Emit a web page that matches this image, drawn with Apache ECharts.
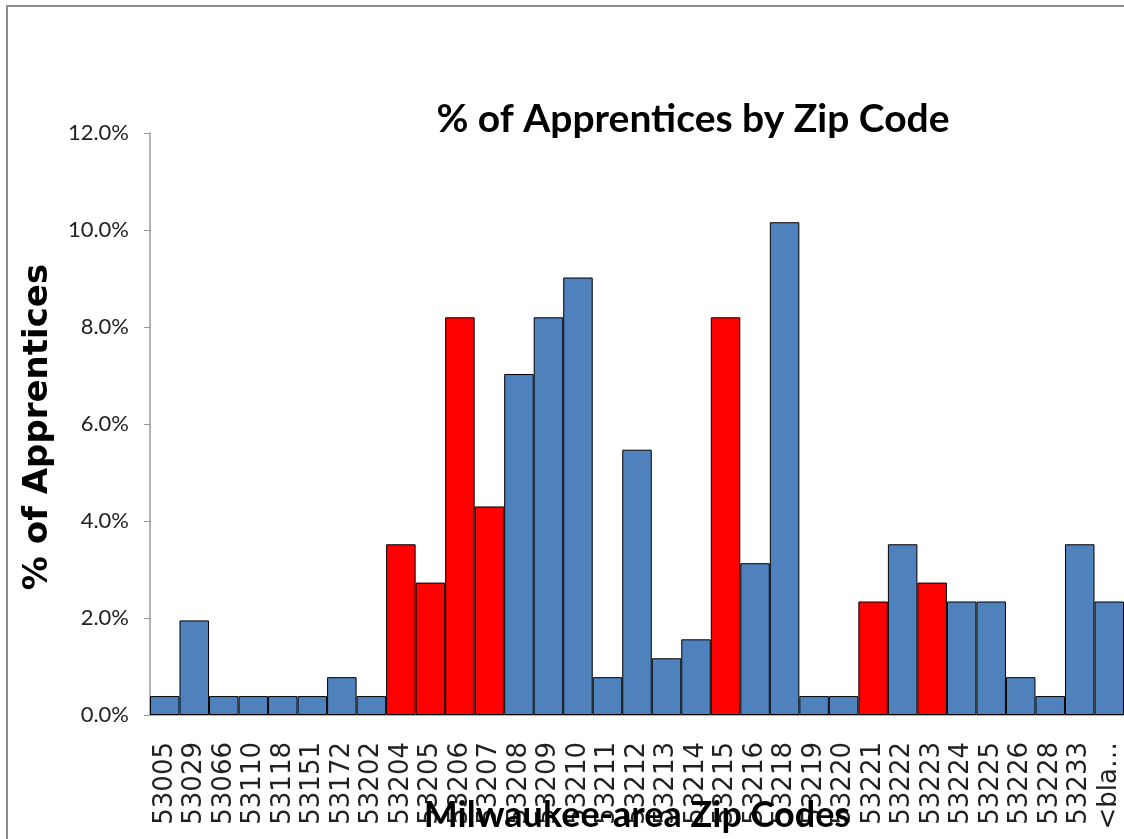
<!DOCTYPE html>
<html>
<head>
<meta charset="utf-8">
<script src="https://cdn.jsdelivr.net/npm/echarts@6/dist/echarts.min.js"></script>
<style>html,body{margin:0;padding:0;background:#fff}#c{width:1124px;height:839px}</style>
</head>
<body>
<div id="c"></div>
<script>
const zipCodes = ['53005','53029','53066','53110','53118','53151','53172','53202','53204','53205','53206','53207','53208','53209','53210','53211','53212','53213','53214','53215','53216','53218','53219','53220','53221','53222','53223','53224','53225','53226','53228','53233','<bla…'];
const pctValues = [0.39,1.95,0.39,0.39,0.39,0.39,0.78,0.39,3.52,2.73,8.20,4.30,7.03,8.20,9.02,0.78,5.47,1.17,1.56,8.20,3.13,10.16,0.39,0.39,2.34,3.52,2.73,2.34,2.34,0.78,0.39,3.52,2.34];
const highlighted = ['53204','53205','53206','53207','53215','53221','53223'];
const yTicks = [0, 2, 4, 6, 8, 10, 12];
const chartTitle = '% of Apprentices by Zip Code';
const xTitle = 'Milwaukee-area Zip Codes';
const yTitle = '% of Apprentices';

const chart = echarts.init(document.getElementById('c'), null, {renderer: 'canvas'});
const data = pctValues.map((v, i) => ({
  value: v,
  itemStyle: { color: highlighted.includes(zipCodes[i]) ? '#FF0000' : '#4F81BD' }
}));
chart.setOption({
  animation: false,
  backgroundColor: '#fff',
  title: [{
    text: chartTitle,
    left: 688, top: 95, textAlign: 'center',
    textStyle: { fontFamily: 'Lato', fontWeight: 'bold', fontSize: 39, color: '#000' }
  }],
  graphic: [
    { type: 'rect', shape: { x: 7, y: 6, width: 1300, height: 1000 }, style: { fill: 'none', stroke: '#8c8c8c', lineWidth: 2 }, z: 100 },
    { type: 'text', x: 637, y: 815, z: 50,
      style: { text: xTitle, fill: '#000', align: 'center', verticalAlign: 'middle',
               font: 'bold 36px Lato' } },
    { type: 'text', x: 38, y: 427, rotation: Math.PI / 2, z: 50,
      style: { text: yTitle, fill: '#000', align: 'center', verticalAlign: 'middle',
               font: 'bold 34px "DejaVu Sans"' } }
  ],
  grid: { left: 150, right: 0, top: 133, bottom: 124, containLabel: false, outerBoundsMode: 'none' },
  xAxis: {
    type: 'category',
    data: zipCodes,
    axisLine: { lineStyle: { color: '#999', width: 1.5 } },
    axisTick: { show: false },
    axisLabel: {
      rotate: 90, interval: 0, margin: 27,
      fontFamily: 'DejaVu Sans', fontSize: 26, color: '#222'
    }
  },
  yAxis: {
    type: 'value',
    min: 0, max: 12, interval: 2,
    axisLine: { show: true, lineStyle: { color: '#999', width: 1.5 } },
    axisTick: { show: true, length: 6, lineStyle: { color: '#999' } },
    splitLine: { show: false },
    axisLabel: {
      margin: 21, fontFamily: 'Lato', fontSize: 22, color: '#222',
      formatter: v => yTicks.includes(v) ? v.toFixed(1) + '%' : ''
    }
  },
  series: [{
    type: 'bar',
    data: data,
    barCategoryGap: '0%',
    itemStyle: { borderColor: '#000', borderWidth: 1 }
  }]
});
</script>
</body>
</html>
